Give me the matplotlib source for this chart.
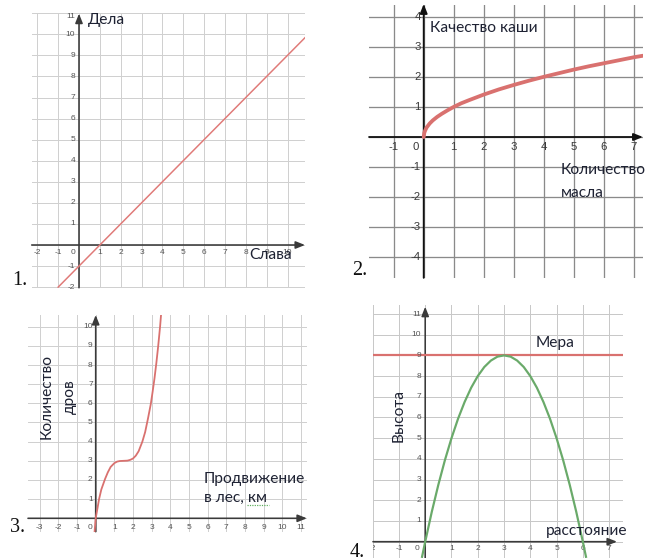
import matplotlib
matplotlib.use('Agg')
import matplotlib.pyplot as plt
from matplotlib.lines import Line2D

W, H = 649, 558
DPI = 100

# ── Data ──
# 1. Слава / Дела: straight line
slava = [-1, 0, 1, 5, 10, 10.84]
dela = [-2, -1, 0, 4, 9, 9.84]
p1_xticks = [-2, -1, 0, 1, 2, 3, 4, 5, 6, 7, 8, 9, 10]
p1_yticks = [-2, -1, 1, 2, 3, 4, 5, 6, 7, 8, 9, 10, 11]

# 2. Количество масла / Качество каши
maslo = [0, 0.02, 0.05, 0.1, 0.2, 0.3, 0.45, 0.6, 0.8, 1, 1.25, 1.5, 2,
         2.5, 3, 3.5, 4, 4.5, 5, 5.5, 6, 6.5, 7, 7.3]
kasha = [0, 0.14, 0.22, 0.32, 0.45, 0.55, 0.67, 0.77, 0.89, 1.0, 1.12, 1.22,
         1.41, 1.58, 1.73, 1.87, 2.0, 2.12, 2.24, 2.35, 2.45, 2.55, 2.65, 2.7]
p2_xticks = [-1, 0, 1, 2, 3, 4, 5, 6, 7]
p2_yticks = [-4, -3, -2, -1, 1, 2, 3, 4]

# 3. Продвижение в лес / Количество дров
les_km = [-0.06, 0.0, 0.1, 0.18, 0.3, 0.5, 0.65, 0.8, 1.0, 1.15, 1.3, 1.5,
          1.7, 1.85, 2.0, 2.15, 2.3, 2.5, 2.65, 2.8, 2.95, 3.05, 3.15, 3.25,
          3.35, 3.45, 3.5]
drova = [-0.7, 0.0, 0.55, 1.0, 1.5, 2.05, 2.4, 2.68, 2.88, 2.96, 2.99, 3.0,
         3.01, 3.05, 3.12, 3.27, 3.5, 4.0, 4.5, 5.2, 5.95, 6.6, 7.3, 8.1,
         9.0, 10.0, 10.6]
p3_xticks = [-3, -2, -1, 0, 1, 2, 3, 4, 5, 6, 7, 8, 9, 10, 11]
p3_yticks = [1, 2, 3, 4, 5, 6, 7, 8, 9, 10]

# 4. расстояние / Высота, Мера
rasst = [-0.12, 0, 0.25, 0.5, 0.75, 1, 1.25, 1.5, 1.75, 2, 2.25, 2.5, 2.75, 3,
         3.25, 3.5, 3.75, 4, 4.25, 4.5, 4.75, 5, 5.25, 5.5, 5.75, 6, 6.12]
vysota = [-0.73, 0, 1.44, 2.75, 3.94, 5, 5.94, 6.75, 7.44, 8, 8.44, 8.75,
          8.94, 9, 8.94, 8.75, 8.44, 8, 7.44, 6.75, 5.94, 5, 3.94, 2.75,
          1.44, 0, -0.73]
mera = 9
p4_xticks = [-2, -1, 0, 1, 2, 3, 4, 5, 6, 7]
p4_yticks = [1, 2, 3, 4, 5, 6, 7, 8, 9, 10, 11]

TITLE_FONT = ['Lato', 'DejaVu Sans']
TICK_FONT = ['Liberation Sans', 'DejaVu Sans']
NUM_FONT = ['Liberation Serif', 'DejaVu Serif']
TXT = '#1e2233'

fig = plt.figure(figsize=(W / DPI, H / DPI), dpi=DPI)


def pt(px):
    return px * 72 / DPI


def panel(ox, oy, ux, uy, xlim, ylim, gx, gy, gcolor, glw):
    left = ox + xlim[0] * ux
    right = ox + xlim[1] * ux
    top = oy - ylim[1] * uy
    bottom = oy - ylim[0] * uy
    ax = fig.add_axes([left / W, 1 - bottom / H, (right - left) / W, (bottom - top) / H])
    ax.set_xlim(xlim)
    ax.set_ylim(ylim)
    for s in ax.spines.values():
        s.set_visible(False)
    ax.set_xticks(gx)
    ax.set_yticks(gy)
    ax.tick_params(length=0, labelbottom=False, labelleft=False)
    ax.grid(True, color=gcolor, lw=pt(glw))
    ax.set_axisbelow(True)
    return ax


def axes_arrows(ax, xr, yr, color, lw):
    style = '-|>,head_length=0.55,head_width=0.22'
    for a, b in (((xr[0], 0), (xr[1], 0)), ((0, yr[0]), (0, yr[1]))):
        ax.annotate('', xy=b, xytext=a, xycoords='data',
                    arrowprops=dict(arrowstyle=style, color=color, lw=pt(lw),
                                    shrinkA=0, shrinkB=0),
                    annotation_clip=False)


def tick_labels(ax, xt, yt, dy, dx0, dxy, fs, color, top_val=None):
    for v in xt:
        off = dx0 if v == 0 else 0
        ax.annotate(f'{v}', (v, 0), xytext=(off, -dy), textcoords='offset pixels',
                    ha='center', va='center', fontsize=fs, color=color,
                    family=TICK_FONT, annotation_clip=False, clip_on=True)
    for v in yt:
        va = 'top' if v == top_val else 'center'
        ax.annotate(f'{v}', (0, v), xytext=(-dxy, 0), textcoords='offset pixels',
                    ha='right', va=va, fontsize=fs, color=color,
                    family=TICK_FONT, annotation_clip=False, zorder=5)


def ftext(x, y, s, **kw):
    kw.setdefault('fontsize', 11.2)
    kw.setdefault('color', TXT)
    kw.setdefault('family', TITLE_FONT)
    fig.text(x / W, 1 - y / H, s, **kw)


# ── Panel 1 ──
ax1 = panel(79, 245, 20.85, 21.07, (-2.27, 10.84), (-2.03, 11.03),
            range(-2, 11), range(-2, 12), '#d0d0d0', 1.0)
axes_arrows(ax1, (-2.27, 10.84), (-2.03, 10.98), '#3a3a3a', 1.6)
ax1.plot(slava, dela, color='#e07a78', lw=pt(1.5), zorder=4)
tick_labels(ax1, p1_xticks, p1_yticks, 8, -6, 4, 6.0, '#555555', top_val=11)
ftext(88, 20, 'Дела', va='center')
ftext(249, 255, 'Слава', va='center')
ftext(12, 285, '1.', family=NUM_FONT, fontsize=14.5, color='#111111', va='baseline')

# ── Panel 2 ──
ax2 = panel(423.7, 137, 30.04, 30.1, (-1.82, 7.3), (-4.68, 4.39),
            range(-1, 8), range(-4, 5), '#8a8a8a', 1.3)
axes_arrows(ax2, (-1.82, 7.3), (-4.68, 4.42), '#111111', 1.8)
ax2.plot(maslo, kasha, color='#d9716f', lw=pt(3.8), solid_capstyle='round', zorder=4)
tick_labels(ax2, p2_xticks, p2_yticks, 10, -8, 3, 8.2, '#3a3a3a')
ftext(430, 27.5, 'Качество каши', va='center')
ftext(561, 170, 'Количество', va='center')
ftext(561, 193, 'масла', va='center')
ftext(352, 275, '2.', family=NUM_FONT, fontsize=14.5, color='#111111', va='baseline')

# ── Panel 3 ──
ax3 = panel(95.7, 518.3, 18.66, 19.16, (-3.63, 11.32), (-0.70, 10.61),
            range(-3, 12), range(0, 11), '#d0d0d0', 1.0)
axes_arrows(ax3, (-3.63, 11.32), (-0.70, 10.61), '#3a3a3a', 1.6)
ax3.plot(les_km, drova, color='#d9716f', lw=pt(1.8), zorder=4)
tick_labels(ax3, p3_xticks, p3_yticks, 9, -6, 3, 6.0, '#555555')
ftext(47, 396.5, 'Количество', rotation=90, ha='center', va='center')
ftext(69.5, 396.5, 'дров', rotation=90, ha='center', va='center')
ftext(204, 478.5, 'Продвижение', va='center')
ftext(204, 497.5, 'в лес, км', va='center')
fig.add_artist(Line2D([247 / W, 269 / W], [1 - 505 / H, 1 - 505 / H],
                      color='#5cae5c', lw=pt(1.2), ls=(0, (1, 1))))
ftext(10, 532, '3.', family=NUM_FONT, fontsize=14.5, color='#111111', va='baseline')

# ── Panel 4 ──
ax4 = panel(425, 541.7, 26.3, 20.7, (-1.99, 7.52), (-0.79, 11.44),
            range(-2, 8), range(0, 12), '#c8c8c8', 1.0)
axes_arrows(ax4, (-1.99, 7.3), (-0.79, 11.35), '#3a3a3a', 1.6)
ax4.axhline(mera, color='#d9716f', lw=pt(2.2), zorder=4)
ax4.plot(rasst, vysota, color='#6aaa6a', lw=pt(2.2), zorder=4)
tick_labels(ax4, p4_xticks, p4_yticks, 7, -8, 4, 6.0, '#555555')
ftext(536, 343.5, 'Мера', va='center')
ftext(398.5, 416, 'Высота', rotation=90, ha='center', va='center')
ftext(546, 531, 'расстояние', va='center')
ftext(350, 557, '4.', family=NUM_FONT, fontsize=14.5, color='#111111', va='baseline')

fig.savefig('out.png', dpi=DPI)
